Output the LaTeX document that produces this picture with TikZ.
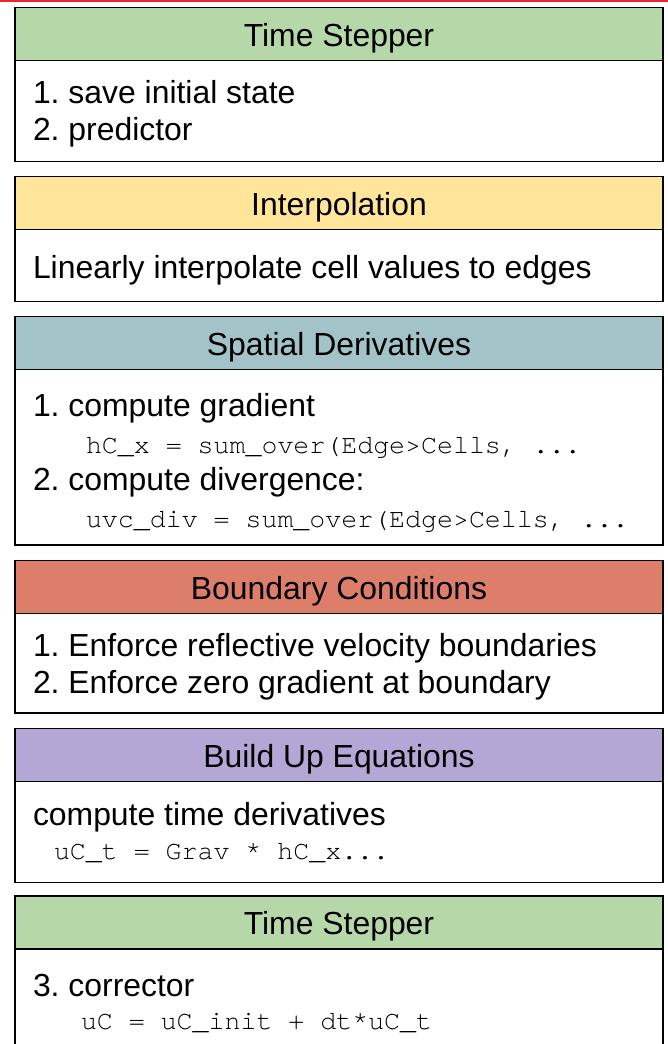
\documentclass[tikz,border=0pt]{standalone}
\usepackage{fontspec}
\setmainfont{Liberation Sans}
\setmonofont{TeX Gyre Cursor}
\usetikzlibrary{positioning}
\definecolor{stepgreen}{HTML}{B6D7A8}
\definecolor{interpyellow}{HTML}{FFE599}
\definecolor{derivteal}{HTML}{A2C4C9}
\definecolor{boundred}{HTML}{DD7E6B}
\definecolor{eqnpurple}{HTML}{B4A7D6}
\definecolor{edgered}{HTML}{E8262D}
\newcommand{\codetext}{\ttfamily\fontsize{26.6}{37}\selectfont}
\tikzset{stagehead/.style={draw, line width=1.5pt, outer sep=0pt, text width=612pt, inner xsep=18pt, inner ysep=0pt, text height=38.5pt, text depth=14.5pt, align=flush center}}
\tikzset{stagebody/.style={draw, fill=white, line width=1.5pt, outer sep=0pt, text width=612pt, inner xsep=18pt, inner ysep=0pt, align=flush left}}

\begin{document}
\begin{tikzpicture}[x=1pt, y=1pt, font=\fontsize{31.9}{37}\selectfont\frenchspacing]

\path[use as bounding box, clip] (0,0) rectangle (668,-1044);
\fill[edgered] (0,0) rectangle (668,-2);

\node[stagehead, fill=stepgreen, anchor=north west] (stephead) at (15,-7.5) {Time Stepper};
\node[stagebody, below=0pt of stephead, text height=42.8pt, text depth=58.2pt] (stepbody) {1. save initial state\\2. predictor};

\node[stagehead, fill=interpyellow, below=15pt of stepbody] (interphead) {Interpolation};
\node[stagebody, below=0pt of interphead, text height=48.5pt, text depth=23.5pt] (interpbody) {Linearly interpolate cell values to edges};

\node[stagehead, fill=derivteal, below=15pt of interpbody] (derivhead) {Spatial Derivatives};
\node[stagebody, below=0pt of derivhead, text height=47.2pt, text depth=128.3pt] (derivbody) {1. compute gradient\\
  \hspace*{53pt}{\codetext hC\_x = sum\_over(Edge>Cells, ...}\\
  2. compute divergence:\\
  \hspace*{53pt}{\codetext uvc\_div = sum\_over(Edge>Cells, ...}};

\node[stagehead, fill=boundred, below=15.5pt of derivbody] (boundhead) {Boundary Conditions};
\node[stagebody, below=0pt of boundhead, text height=42.5pt, text depth=57pt] (boundbody) {1. Enforce reflective velocity boundaries\\2. Enforce zero gradient at boundary};

\node[stagehead, fill=eqnpurple, below=15.5pt of boundbody] (eqnhead) {Build Up Equations};
\node[stagebody, below=0pt of eqnhead, text height=43.5pt, text depth=57.5pt] (eqnbody) {compute time derivatives\\[-2.7pt]
  \hspace*{21pt}{\codetext uC\_t = Grav * hC\_x...}};

% corrector step, runs off the bottom edge
\node[stagehead, fill=stepgreen, below=13.5pt of eqnbody] (corrhead) {Time Stepper};
\node[stagebody, below=0pt of corrhead, text height=47.7pt, text depth=60pt] (corrbody) {3. corrector\\[-4.4pt]
  \hspace*{48pt}{\codetext uC = uC\_init + dt*uC\_t}};

\end{tikzpicture}
\end{document}
